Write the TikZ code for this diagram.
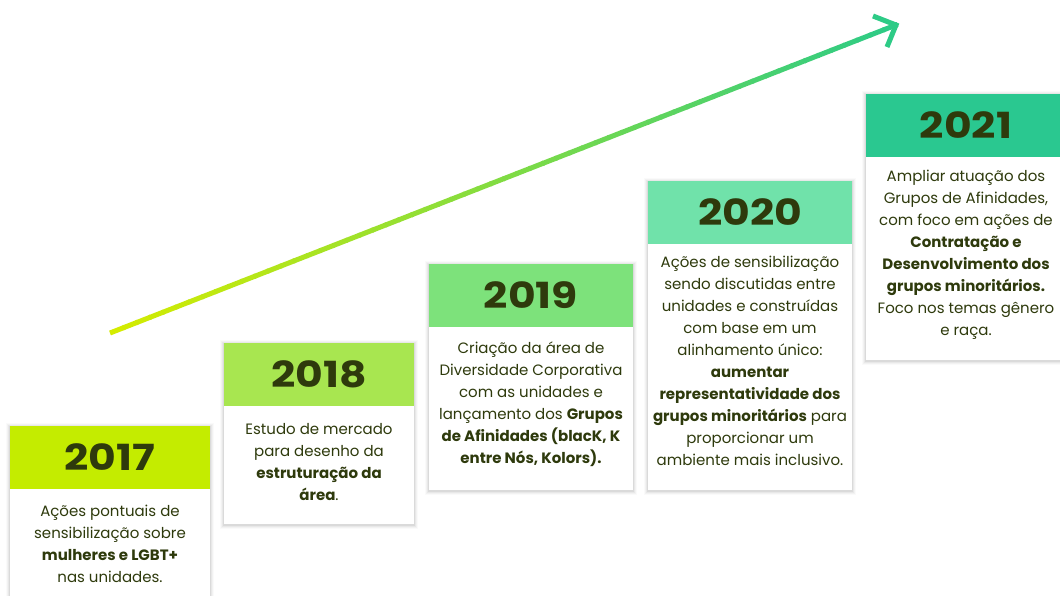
\documentclass[tikz,border=0pt]{standalone}
\usepackage{fontspec}
\usetikzlibrary{calc}
\setmainfont{Poppins}
\definecolor{c2017}{HTML}{C4EC00}
\definecolor{c2018}{HTML}{A8E650}
\definecolor{c2019}{HTML}{7DE27B}
\definecolor{c2020}{HTML}{70E2AA}
\definecolor{c2021}{HTML}{2AC890}
\definecolor{txt}{HTML}{2E3A0C}
\definecolor{arA}{HTML}{D4EC00}
\definecolor{arB}{HTML}{2DCB86}
\newcommand\tlcard[9]{%
  % #1 name, #2 x1, #3 y1, #4 x2, #5 yh, #6 y2, #7 text offset, #8 year, #9 text
  \foreach \s/\o in {4/0.02,3/0.03,2/0.04,1/0.06}{%
    \fill[black,opacity=\o] (#2-\s,#3-\s+1) rectangle (#4+\s,#6+\s+1);}
  \fill[white] (#2,#3) rectangle (#4,#6);
  \fill[c#8] (#2,#3) rectangle (#4,#5);
  \node[yearlabel] (#1y) at ({(#2+#4)/2},{(#3+#5)/2}) {#8};
  \node[bodytext] (#1t) at ({(#2+#4)/2},{#5+#7}) {#9};
}
\begin{document}
\begin{tikzpicture}[x=1pt,y=-1pt,
  yearlabel/.style={font=\fontsize{36}{40}\selectfont\bfseries, text=txt, inner sep=0, xscale=1.18},
  bodytext/.style={font=\fontsize{15}{22}\selectfont, text=txt, align=center, anchor=north, inner sep=0},
  arrowline/.style={line width=5pt}]
\useasboundingbox (0,0) rectangle (1060,595);
\fill[white] (0,0) rectangle (1060,595);

\tlcard{c17}{10}{426}{210}{489}{600}{16}{2017}{Ações pontuais de\\ sensibilização sobre\\ \textbf{mulheres e LGBT+}\\ nas unidades.}
\tlcard{c18}{224}{343}{414}{406}{524}{17}{2018}{Estudo de mercado\\ para desenho da\\ \textbf{estruturação da}\\ \textbf{área}.}
\tlcard{c19}{429}{264}{633}{327}{490}{15}{2019}{Criação da área de\\ Diversidade Corporativa\\ com as unidades e\\ lançamento dos \textbf{Grupos}\\ \textbf{de Afinidades (blacK, K}\\ \textbf{entre Nós, Kolors).}}
\tlcard{c20}{648}{181}{852}{244}{490}{12}{2020}{Ações de sensibilização\\ sendo discutidas entre\\ unidades e construídas\\ com base em um\\ alinhamento único:\\ \textbf{aumentar}\\ \textbf{representatividade dos}\\ \textbf{grupos minoritários} para\\ proporcionar um\\ ambiente mais inclusivo.}
\tlcard{c21}{866}{94}{1066}{157}{360}{13}{2021}{Ampliar atuação dos\\ Grupos de Afinidades,\\ com foco em ações de\\ \textbf{Contratação e}\\ \textbf{Desenvolvimento dos}\\ \textbf{grupos minoritários.}\\ Foco nos temas gênero\\ e raça.}

% gradient arrow
\coordinate (arS) at (110,333);
\coordinate (arE) at (896,25);
\coordinate (hdA) at (873,16);
\coordinate (hdB) at (887,47);
\foreach \i in {0,...,59}{
  \pgfmathsetmacro\pc{100-\i*100/59}
  \colorlet{segc}{arA!\pc!arB}
  \draw[arrowline, segc] ($(arS)!{\i/60}!(arE)$) -- ($(arS)!{(\i+1)/60+0.002}!(arE)$);
}
\draw[arrowline, arB, line join=miter] (hdA) -- (arE) -- (hdB);
\end{tikzpicture}
\end{document}
